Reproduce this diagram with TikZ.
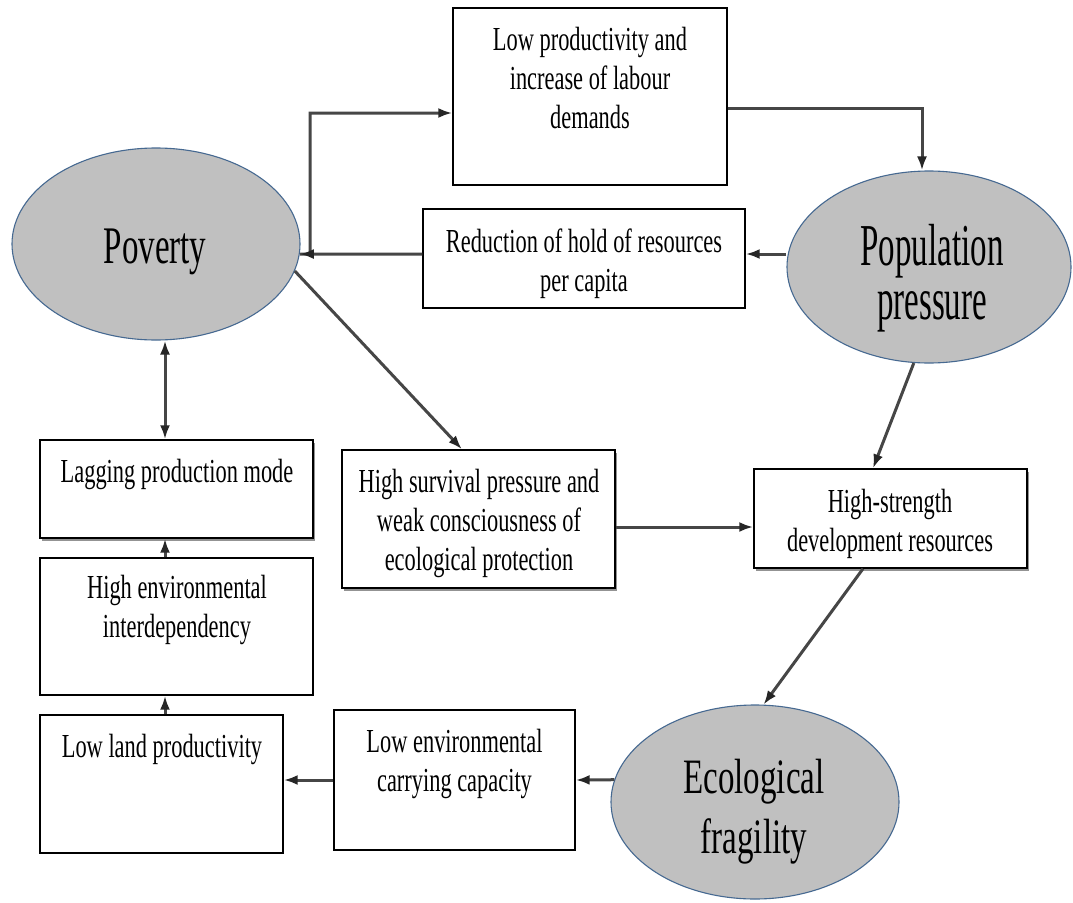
\documentclass[tikz,border=0pt]{standalone}
\usepackage{fontspec}
\setmainfont{Liberation Serif}
\usetikzlibrary{arrows.meta,shadows,calc,shapes.geometric}
\definecolor{ellfill}{RGB}{192,192,192}
\definecolor{elldraw}{RGB}{70,105,145}
\definecolor{linec}{RGB}{70,70,70}
\newcommand\bt[1]{\scalebox{1}[1.5]{\fontsize{22.4}{26}\selectfont\begin{tabular}[t]{@{}c@{}}#1\end{tabular}}}
\newcommand\et[4]{\scalebox{1}[#1]{\fontsize{33}{#2}\selectfont\begin{tabular}[t]{@{}c@{}}#3\end{tabular}}}
\begin{document}
\begin{tikzpicture}[x=1pt,y=-1pt,
  box/.style={draw=black, line width=1.4pt, fill=white, rectangle, inner sep=0pt},
  shbox/.style={box, drop shadow={shadow xshift=2pt, shadow yshift=-3pt, fill=black!60, opacity=.7}},
  ell/.style={ellipse, draw=elldraw, line width=1.1pt, fill=ellfill, inner sep=0pt, minimum width=288pt, minimum height=192pt},
  txt/.style={anchor=base, inner sep=0pt},
  arr/.style={draw=linec, line width=3pt, -{Latex[length=14pt,width=10pt,color=black!85]}},
  arrb/.style={draw=linec, line width=3pt, {Latex[length=14pt,width=10pt,color=black!85]}-{Latex[length=14pt,width=10pt,color=black!85]}}
]
\useasboundingbox (0,0) rectangle (1073,902);
\fill[white] (0,0) rectangle (1073,902);

% ellipses
\node[ell] (pov) at (156,244) {};
\node[ell, minimum width=284pt] (pop) at (929,267) {};
\node[ell, minimum height=194pt] (eco) at (755,802) {};
\node[txt] (povt) at (155,263) {\et{1.6}{30}{Poverty}{}};
\node[txt] (popt) at (932,265) {\et{1.8}{30}{Population\\pressure}{}};
\node[txt] (ecot) at (754,793) {\et{1.5}{40}{Ecological\\fragility}{}};

% boxes
\node[box, minimum width=274pt, minimum height=177pt] (top) at (590,96.5) {};
\node[box, minimum width=322pt, minimum height=99pt] (red) at (584,258.5) {};
\node[shbox, minimum width=273pt, minimum height=138pt] (surv) at (478.5,519) {};
\node[shbox, minimum width=273pt, minimum height=99pt] (hs) at (890.5,518.5) {};
\node[box, minimum width=241pt, minimum height=140pt] (lenv) at (454.5,780) {};
\node[shbox, minimum width=273pt, minimum height=98pt] (lag) at (176.5,489) {};
\node[box, minimum width=273pt, minimum height=137pt] (henv) at (176.5,626.5) {};
\node[box, minimum width=243pt, minimum height=138pt] (lland) at (161.5,784) {};

\node[txt] (topt) at (590,50) {\bt{Low productivity and\\increase of labour\\demands}};
\node[txt] (redt) at (584,252) {\bt{Reduction of hold of resources\\per capita}};
\node[txt] (survt) at (479,492) {\bt{High survival pressure and\\weak consciousness of\\ecological protection}};
\node[txt] (hst) at (890,512) {\bt{High-strength\\development resources}};
\node[txt] (lenvt) at (454.5,752) {\bt{Low environmental\\carrying capacity}};
\node[txt] (lagt) at (177,482) {\bt{Lagging production mode}};
\node[txt] (henvt) at (177,598) {\bt{High environmental\\interdependency}};
\node[txt] (llandt) at (162,757) {\bt{Low land productivity}};

% connectors
\draw[arr] (pov.-4) -- (310,254) |- (top.west |- 0,113);
\draw[arr] (top.east |- 0,108) -| ($(pop.north)+(-7,0)$);
\draw[arr] (pop.west |- 0,254) -- (red.east |- 0,254);
\draw[arr] (red.west |- 0,254) -- (pov.-4);
\draw[arr] (pov.-11) -- (surv.north -| 462,0);
\draw[arr] (surv.east |- 0,527) -- (hs.west |- 0,527);
\draw[arr] (pop.-99) -- (hs.north -| 873,0);
\draw[arr] (hs.south -| 863,0) -- (eco.85);
\draw[arr] (eco.171) -- (lenv.east |- 0,780);
\draw[arr] (lenv.west |- 0,780) -- (lland.east |- 0,780);
\draw[arrb] (pov.south -| 165,0) -- (lag.north -| 165,0);
\draw[arr] (henv.north -| 165,0) -- (lag.south -| 165,0);
\draw[arr] (lland.north -| 165,0) -- (henv.south -| 165,0);
\end{tikzpicture}
\end{document}
